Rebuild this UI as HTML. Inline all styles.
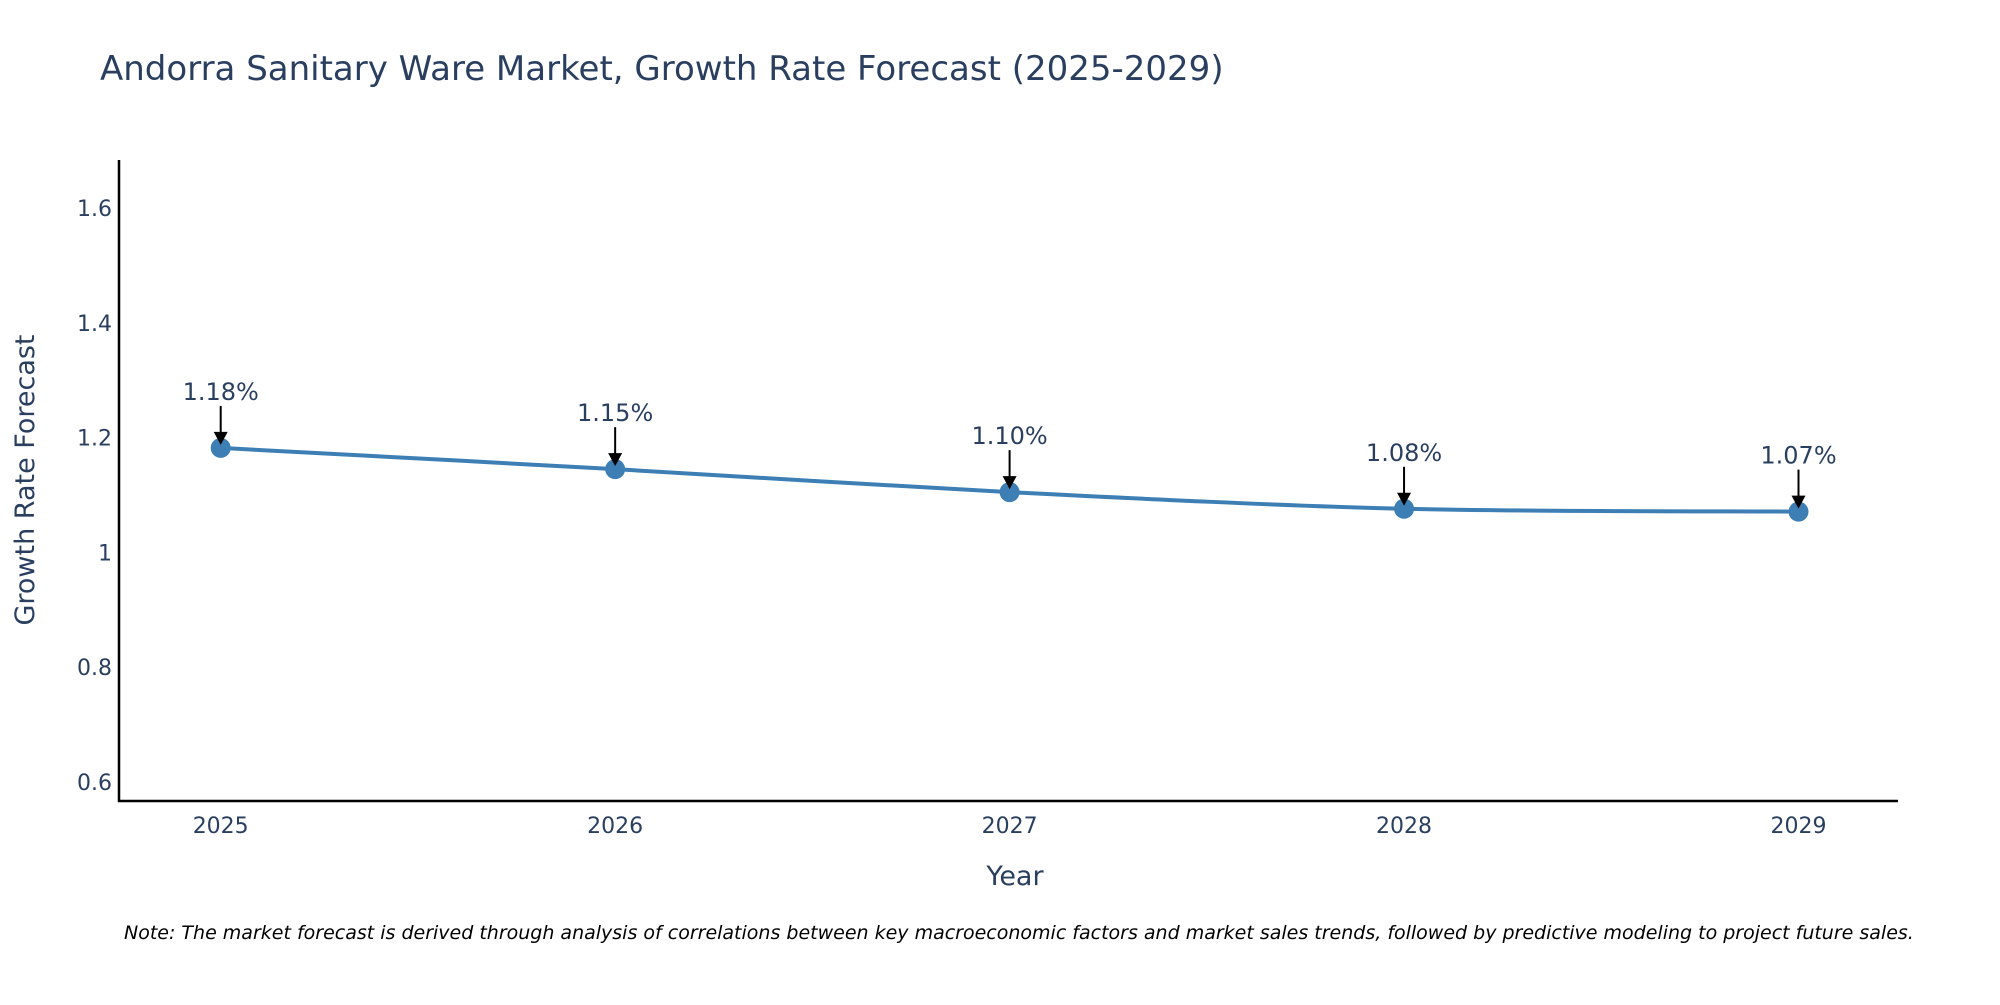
<!DOCTYPE html>
<html><head><meta charset="utf-8"><style>
body{margin:0;background:#fff;}
svg{font-family:"DejaVu Sans","Liberation Sans",sans-serif;}
</style></head><body>
<svg id="chart" width="2000" height="1000">
<text x="100" y="80" font-size="34" fill="#2a3f5f">Andorra Sanitary Ware Market, Growth Rate Forecast (2025-2029)</text>
<g id="yticks"></g>
<g id="xticks"></g>
<path id="line" fill="none" stroke="#3d7fb5" stroke-width="4"></path>
<g id="points"></g>
<g id="annots"></g>
<line x1="119" y1="160" x2="119" y2="802" stroke="#000" stroke-width="2.5"/>
<line x1="118" y1="801" x2="1898" y2="801" stroke="#000" stroke-width="2.5"/>
<text x="1015" y="885" font-size="27" fill="#2a3f5f" text-anchor="middle">Year</text>
<text transform="translate(34,480) rotate(-90)" font-size="27" fill="#2a3f5f" text-anchor="middle">Growth Rate Forecast</text>
<text x="124" y="939" font-size="19" font-style="italic" fill="#000">Note: The market forecast is derived through analysis of correlations between key macroeconomic factors and market sales trends, followed by predictive modeling to project future sales.</text>
</svg>
<script>
const years=["2025","2026","2027","2028","2029"];
const values=[1.182,1.145,1.105,1.076,1.071];
const labels=["1.18%","1.15%","1.10%","1.08%","1.07%"];
const yTicks=[0.6,0.8,1,1.2,1.4,1.6];
const yTickLabels=["0.6","0.8","1","1.2","1.4","1.6"];
const NS="http://www.w3.org/2000/svg";
const x=i=>220.7+i*(1798.5-220.7)/(years.length-1);
const y=v=>208+(1.6-v)*574;
function mk(tag,attrs,parent){const e=document.createElementNS(NS,tag);for(const k in attrs)e.setAttribute(k,attrs[k]);parent.appendChild(e);return e;}
const yt=document.getElementById('yticks');
yTicks.forEach((v,i)=>{const t=mk('text',{x:112,y:y(v)+8,'font-size':22,fill:'#2a3f5f','text-anchor':'end'},yt);t.textContent=yTickLabels[i];

});
const xt=document.getElementById('xticks');
years.forEach((yr,i)=>{const t=mk('text',{x:x(i),y:833,'font-size':22,fill:'#2a3f5f','text-anchor':'middle'},xt);t.textContent=yr;

});
const P=values.map((v,i)=>[x(i),y(v)]);
let d=`M${P[0][0]},${P[0][1]}`;
for(let i=0;i<P.length-1;i++){const p0=P[i-1]||P[i],p1=P[i],p2=P[i+1],p3=P[i+2]||P[i+1];const s=0.16;
d+=` C${p1[0]+(p2[0]-p0[0])*s},${p1[1]+(p2[1]-p0[1])*s} ${p2[0]-(p3[0]-p1[0])*s},${p2[1]-(p3[1]-p1[1])*s} ${p2[0]},${p2[1]}`;}
document.getElementById('line').setAttribute('d',d);
const pts=document.getElementById('points'),an=document.getElementById('annots');
P.forEach((p,i)=>{const c=mk('circle',{cx:p[0],cy:p[1],r:10,fill:'#3d7fb5'},pts);


const g=mk('g',{},an);


mk('line',{x1:p[0],y1:p[1]-42,x2:p[0],y2:p[1]-14,stroke:'#000','stroke-width':2},g);
mk('path',{d:`M${p[0]-7},${p[1]-16} L${p[0]+7},${p[1]-16} L${p[0]},${p[1]-3} Z`,fill:'#000'},g);
const t=mk('text',{x:p[0],y:p[1]-48,'font-size':24,fill:'#2a3f5f','text-anchor':'middle'},g);t.textContent=labels[i];});
</script>
</body></html>
